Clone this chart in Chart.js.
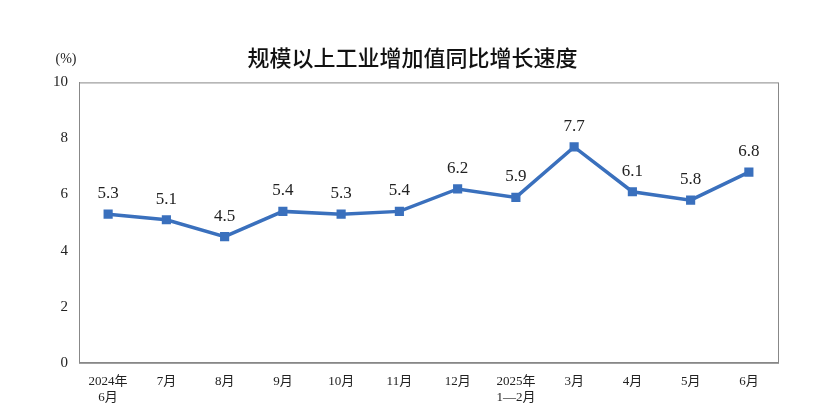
<!DOCTYPE html><html><head><meta charset="utf-8"><script src="https://cdn.jsdelivr.net/npm/chart.js@4"></script>
<style>body{margin:0;background:#fff}#w{width:830px;height:420px;position:relative}</style></head><body><div id="w"><canvas id="c"></canvas></div>
<script>
const categories=[["2024年","6月"],"7月","8月","9月","10月","11月","12月",["2025年","1—2月"],"3月","4月","5月","6月"];
const values=[5.3,5.1,4.5,5.4,5.3,5.4,6.2,5.9,7.7,6.1,5.8,6.8];
const yTicks=[0,2,4,6,8,10];
const serif="'Liberation Serif','Times New Roman',serif";
const labelPlugin={id:'lbl',afterDatasetsDraw(ch){const ctx=ch.ctx;const m=ch.getDatasetMeta(0);ctx.save();ctx.font="17px "+serif;ctx.fillStyle="#222";ctx.textAlign="center";ctx.textBaseline="bottom";
m.data.forEach((p,i)=>ctx.fillText(values[i].toFixed(1),p.x,p.y-12));
ctx.font="14px "+serif;ctx.textAlign="center";ctx.fillText("(%)",66,66);
const a=ch.chartArea;ctx.strokeStyle="#888";ctx.lineWidth=1;ctx.strokeRect(a.left+0.5,a.top+0.5,a.right-a.left,a.bottom-a.top);ctx.restore();}};
new Chart(document.getElementById('c'),{type:'line',data:{labels:categories,datasets:[{data:values,borderColor:'#3a70bd',backgroundColor:'#3a70bd',borderWidth:3.5,pointStyle:'rect',pointRadius:4,tension:0}]},
options:{responsive:true,maintainAspectRatio:false,animation:false,layout:{padding:{left:47,right:52,top:44,bottom:12}},
plugins:{legend:{display:false},tooltip:{enabled:false},title:{display:true,text:'规模以上工业增加值同比增长速度',font:{size:22,weight:'500',family:"'Noto Sans CJK SC'"},color:'#111',padding:{top:0,bottom:12}}},
scales:{x:{offset:true,grid:{display:false,drawTicks:true},border:{color:'#888'},ticks:{font:{size:13,family:serif+",'Noto Sans CJK SC'"},color:'#222',maxRotation:0,autoSkip:false}},
y:{min:0,max:10,afterBuildTicks(s){s.ticks=yTicks.map(v=>({value:v}))},grid:{display:false,drawTicks:true,tickLength:5},border:{color:'#888'},ticks:{font:{size:15,family:serif},color:'#222',padding:6}}}},plugins:[labelPlugin]});
</script></body></html>
